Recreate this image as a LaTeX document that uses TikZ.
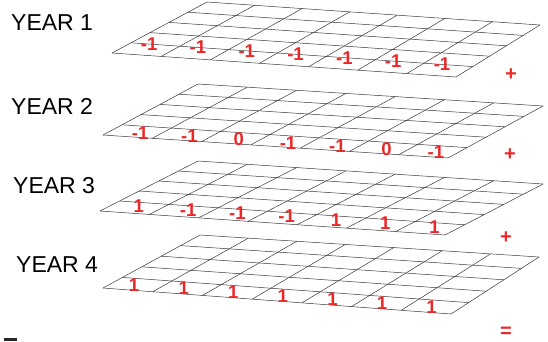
\documentclass[tikz,border=0pt]{standalone}
\usepackage{fontspec}
\setmainfont{Liberation Sans}
\usetikzlibrary{calc}
\definecolor{markred}{RGB}{235,40,40}
\tikzstyle{gridline}=[draw=black!78,line width=0.5pt]
\tikzstyle{yearlabel}=[font=\fontsize{23}{26}\selectfont,anchor=west,inner sep=0pt]
\tikzstyle{cellval}=[font=\fontsize{18.5}{20}\selectfont\bfseries,text=markred,inner sep=0pt]
\tikzstyle{sumsign}=[font=\fontsize{20}{22}\selectfont\bfseries,text=markred,inner sep=0pt]

\begin{document}
\begin{tikzpicture}[x=1pt,y=-1pt]
            \useasboundingbox (0,0) rectangle (548,341);
            % corners of the four yearly grids
            \coordinate (tl1) at (207,2);   \coordinate (tr1) at (540,25);
            \coordinate (br1) at (456,77);  \coordinate (bl1) at (112,53);
            \coordinate (tl2) at (198,84);  \coordinate (tr2) at (543,106);
            \coordinate (br2) at (448,158); \coordinate (bl2) at (103,135);
            \coordinate (tl3) at (198,161); \coordinate (tr3) at (543,184);
            \coordinate (br3) at (445,235); \coordinate (bl3) at (100,211);
            \coordinate (tl4) at (200,235); \coordinate (tr4) at (539,257);
            \coordinate (br4) at (451,314); \coordinate (bl4) at (103,288);
            \foreach \n in {1,...,4}{
                \foreach \i in {0,...,7}
                    \draw[gridline] ($(tl\n)!\i/7!(tr\n)$) -- ($(bl\n)!\i/7!(br\n)$);
                \foreach \j in {0,...,5}
                    \draw[gridline] ($(tl\n)!\j/5!(bl\n)$) -- ($(tr\n)!\j/5!(br\n)$);
            }
            \node[yearlabel] (year1) at (11,23)  {YEAR 1};
            \node[yearlabel] (year2) at (11,106) {YEAR 2};
            \node[yearlabel] (year3) at (13,186) {YEAR 3};
            \node[yearlabel] (year4) at (16,265) {YEAR 4};
            % values in the front row
            \foreach \n/\v/\f/\vals in {1/0.8/0.37/{-1,-1,-1,-1,-1,-1,-1},
                                        2/0.92/0.6/{-1,-1,0,-1,-1,0,-1},
                                        3/0.87/0.53/{1,-1,-1,-1,1,1,1},
                                        4/0.91/0.45/{1,1,1,1,1,1,1}}{
                \foreach \val [count=\k from 0] in \vals {
                    \pgfmathsetmacro\u{(\k+\f)/7}
                    \coordinate (up) at ($(tl\n)!\u!(tr\n)$);
                    \coordinate (dn) at ($(bl\n)!\u!(br\n)$);
                    \node[cellval] (val\n-\k) at ($(up)!\v!(dn)$) {\val};
                }
            }
            \node[sumsign] (plus1) at (511,75)  {+};
            \node[sumsign] (plus2) at (510,155) {+};
            \node[sumsign] (plus3) at (506,238) {+};
            \node[sumsign] (equal) at (506,332) {=};
            \fill[black!85] (4,338) rectangle (17,341);
        \end{tikzpicture}
\end{document}
